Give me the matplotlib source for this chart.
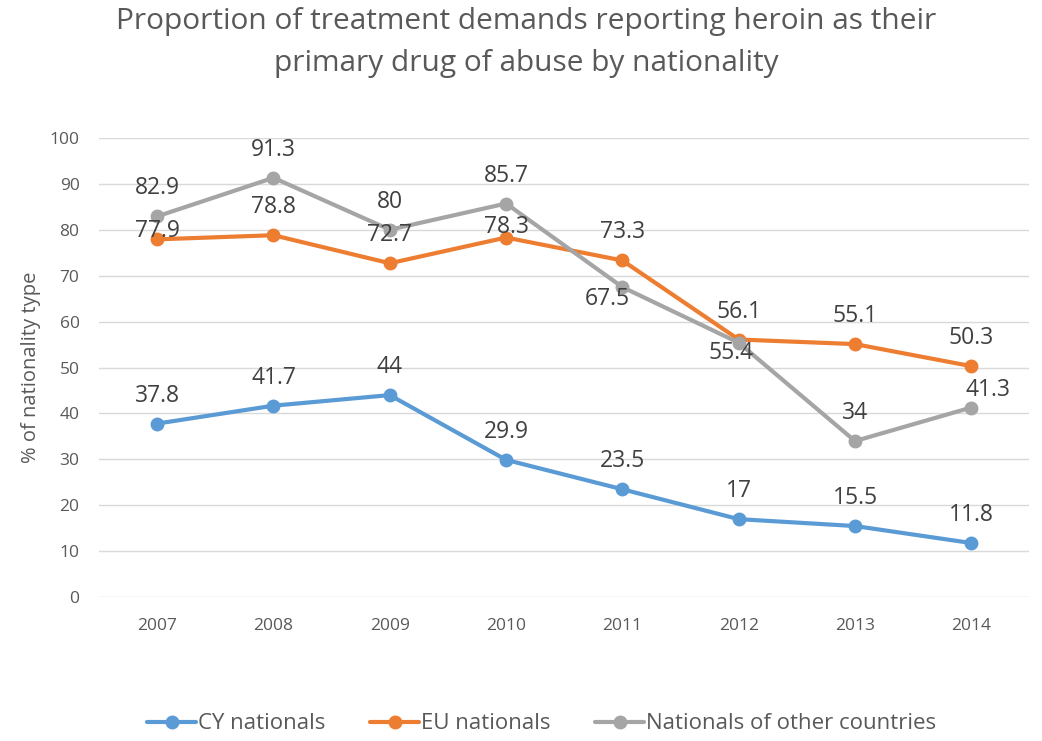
import matplotlib.pyplot as plt

plt.rcParams['font.family'] = ['Open Sans', 'DejaVu Sans']

years = ['2007', '2008', '2009', '2010', '2011', '2012', '2013', '2014']
cy_nationals = [37.8, 41.7, 44, 29.9, 23.5, 17, 15.5, 11.8]
eu_nationals = [77.9, 78.8, 72.7, 78.3, 73.3, 56.1, 55.1, 50.3]
other_nationals = [82.9, 91.3, 80, 85.7, 67.5, 55.4, 34, 41.3]
series_names = ['CY nationals', 'EU nationals', 'Nationals of other countries']
colors = ['#5B9BD5', '#ED7D31', '#A5A5A5']

# label offsets in pixels (dx, dy), default is straight above the point
default_off = (0, 28)
special_off = {
    (1, 0): (0, 8),
    (1, 3): (0, 11),
    (2, 4): (-15, -12),
    (2, 5): (-8, -10),
    (2, 7): (17, 18),
}

fig = plt.figure(figsize=(10.42, 7.41), dpi=100)
ax = fig.add_axes([0.095, 0.194, 0.893, 0.62])

x = list(range(len(years)))
all_series = [cy_nationals, eu_nationals, other_nationals]
for s, (vals, name, col) in enumerate(zip(all_series, series_names, colors)):
    ax.plot(x, vals, color=col, lw=3, marker='o', markersize=9, label=name,
            solid_capstyle='round', zorder=3 + s)

for s, vals in enumerate(all_series):
    for i, v in enumerate(vals):
        dx, dy = special_off.get((s, i), default_off)
        ax.annotate(f'{v:g}', (i, v), xytext=(dx * 0.72, dy * 0.72),
                    textcoords='offset points', ha='center', va='center',
                    fontsize=16.5, color='#404040', zorder=10)

ax.set_xlim(-0.5, len(years) - 0.5)
ax.set_ylim(0, 100)
ax.set_yticks(range(0, 101, 10))
ax.set_xticks(x)
ax.set_xticklabels(years)
ax.tick_params(axis='both', length=0, labelsize=12.5, colors='#595959')
ax.tick_params(axis='x', pad=15)
ax.tick_params(axis='y', pad=14)
ax.grid(axis='y', color='#D9D9D9', lw=1)
ax.set_axisbelow(True)
for sp in ax.spines.values():
    sp.set_visible(False)

ax.set_ylabel('% of nationality type', fontsize=14.5, color='#595959', labelpad=6)

fig.suptitle('Proportion of treatment demands reporting heroin as their\nprimary drug of abuse by nationality',
             fontsize=21.5, color='#595959', x=0.505, y=0.99, linespacing=1.55)

fig.legend(loc='lower center', bbox_to_anchor=(0.52, -0.018), ncol=3, frameon=False,
           fontsize=16, labelcolor='#595959', handlelength=2.2, handletextpad=0.1,
           columnspacing=2.0)

fig.savefig('out.png', dpi=100)
